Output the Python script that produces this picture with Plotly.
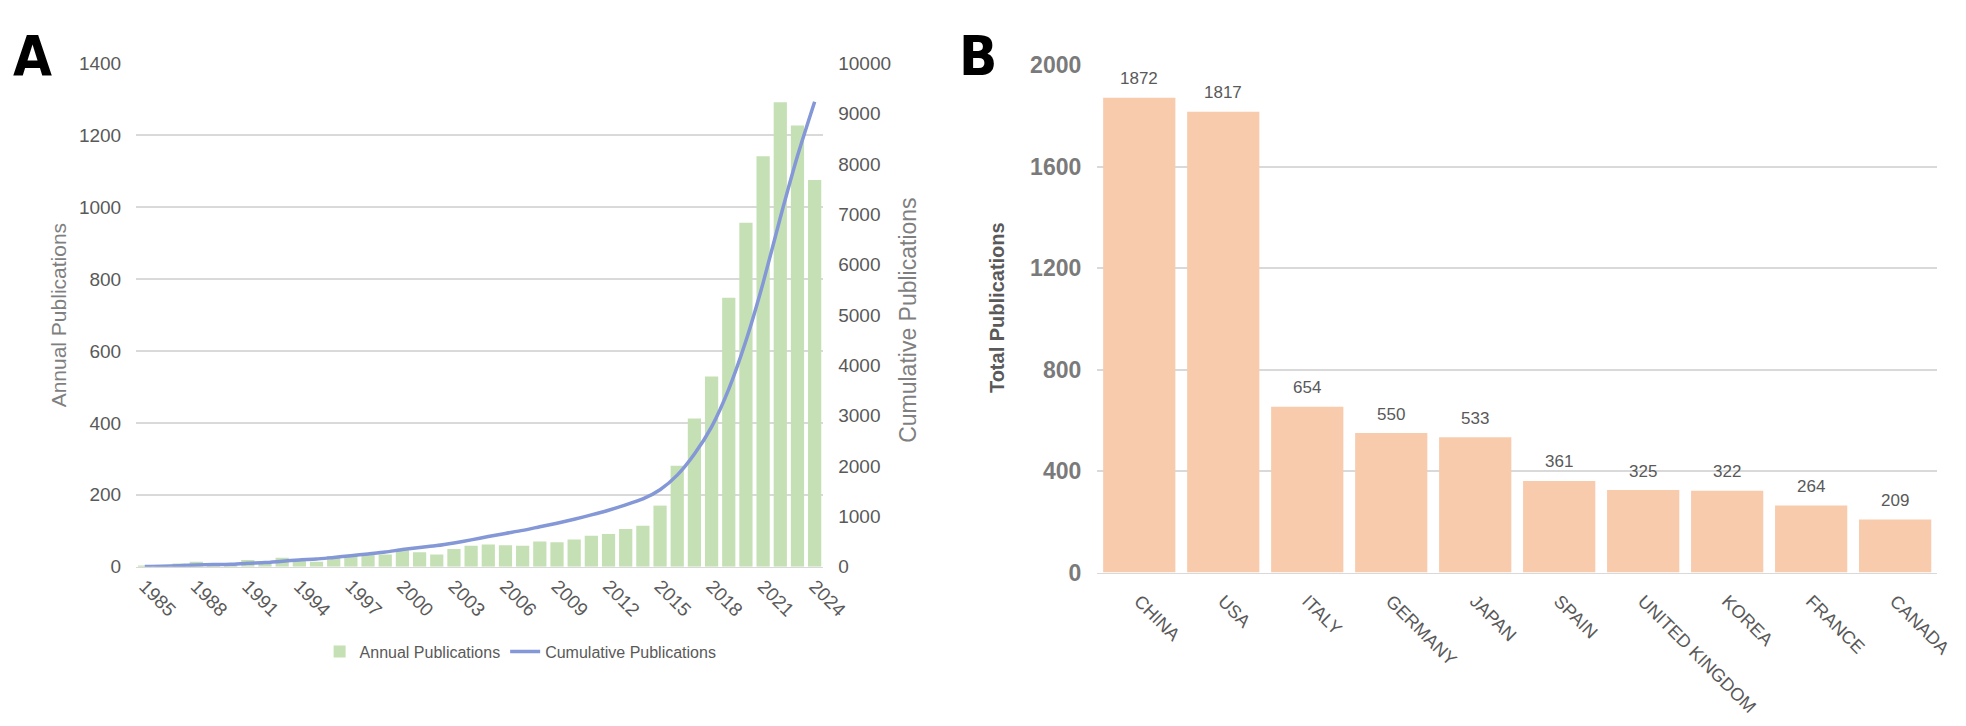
import plotly.graph_objects as go

# ---------------- Panel A data ----------------
years = [str(y) for y in range(1985, 2025)]
annual_pubs = [3, 2, 9, 14, 4, 5, 19, 9, 25, 21,
               14, 30, 30, 34, 34, 46, 40, 34, 49, 58,
               62, 60, 58, 70, 68, 76, 86, 91, 105, 114,
               170, 281, 412, 529, 748, 957, 1142, 1292, 1227, 1076]
cumulative_pubs = [5, 9, 20, 36, 42, 49, 70, 82, 110, 135,
                   152, 185, 218, 255, 292, 341, 384, 421, 473, 534,
                   600, 662, 722, 794, 864, 942, 1030, 1123, 1230, 1348,
                   1530, 1820, 2240, 2780, 3530, 4490, 5640, 6935, 8160, 9238]
year_ticks = ["1985", "1988", "1991", "1994", "1997", "2000", "2003", "2006",
              "2009", "2012", "2015", "2018", "2021", "2024"]

# ---------------- Panel B data ----------------
countries = ["CHINA", "USA", "ITALY", "GERMANY", "JAPAN", "SPAIN",
             "UNITED KINGDOM", "KOREA", "FRANCE", "CANADA"]
country_pubs = [1872, 1817, 654, 550, 533, 361, 325, 322, 264, 209]

W, H = 1966, 726
FONT = "Liberation Sans"
GRAY = "#595959"
GRID = "#d9d9d9"

def px_x(v):
    return v / W

def px_y(v):
    return 1 - v / H

A_TOP, A_BOT = 44, 566
B_TOP, B_BOT = 46, 572

fig = go.Figure()

fig.add_trace(go.Bar(
    x=years, y=annual_pubs, name="Annual Publications",
    marker=dict(color="#C5E0B4", line=dict(width=0)),
    width=0.77, xaxis="x", yaxis="y",
))
fig.add_trace(go.Scatter(
    x=years, y=cumulative_pubs, name="Cumulative Publications",
    mode="lines", line=dict(color="#8497D6", width=3.5, shape="spline", smoothing=0.6),
    xaxis="x", yaxis="y2",
))
fig.add_trace(go.Bar(
    x=countries, y=country_pubs, name="Total Publications",
    marker=dict(color="#F8CBAD", line=dict(width=0)),
    width=0.86, xaxis="x2", yaxis="y3", showlegend=False,
))

annotations = []
for c, v in zip(countries, country_pubs):
    annotations.append(dict(
        x=c, y=v, xref="x2", yref="y3", text=str(v), showarrow=False,
        yshift=19, font=dict(family=FONT, size=17, color=GRAY),
    ))

annotations += [
    dict(x=0.0, y=1.0, xref="paper", yref="paper", text="A",
         showarrow=False, xanchor="left", yanchor="top", xshift=2,
         font=dict(family="DejaVu Sans Condensed", size=56, color="black", weight="bold")),
    dict(x=px_x(962), y=1.0, xref="paper", yref="paper", text="B",
         showarrow=False, xanchor="left", yanchor="top",
         font=dict(family="DejaVu Sans Condensed", size=56, color="black", weight="bold")),
    dict(x=px_x(50), y=px_y((A_TOP + A_BOT) / 2), xref="paper", yref="paper",
         text="Annual Publications",
         showarrow=False, textangle=-90, xanchor="center", yanchor="middle",
         font=dict(family=FONT, size=21, color="#7f7f7f")),
    dict(x=px_x(912), y=px_y((A_TOP + A_BOT) / 2 + 6), xref="paper", yref="paper",
         text="Cumulative Publications",
         showarrow=False, textangle=-90, xanchor="center", yanchor="middle",
         font=dict(family=FONT, size=23, color="#7f7f7f")),
    dict(x=px_x(1003), y=px_y((B_TOP + B_BOT) / 2 - 12), xref="paper", yref="paper",
         text="Total Publications",
         showarrow=False, textangle=-90, xanchor="center", yanchor="middle",
         font=dict(family=FONT, size=20, color=GRAY, weight="bold")),
]

fig.update_layout(
    width=W, height=H,
    margin=dict(l=0, r=0, t=0, b=0),
    paper_bgcolor="white", plot_bgcolor="white",
    font=dict(family=FONT, color=GRAY),
    showlegend=True,
    legend=dict(orientation="h", x=px_x(519), y=px_y(654), xanchor="center", yanchor="middle",
                font=dict(family=FONT, size=16, color=GRAY), bgcolor="rgba(0,0,0,0)"),
    xaxis=dict(domain=[px_x(129), px_x(826)], type="category", categoryorder="array",
               categoryarray=years, tickmode="array", tickvals=year_ticks, ticktext=year_ticks,
               tickangle=45, tickfont=dict(family=FONT, size=19, color=GRAY),
               showgrid=False, showline=True, linecolor=GRID, linewidth=1, ticks="",
               anchor="y"),
    yaxis=dict(domain=[px_y(A_BOT), px_y(A_TOP)], range=[0, 1400], dtick=200,
               showgrid=True, gridcolor=GRID, gridwidth=1.5, zeroline=False,
               tickfont=dict(family=FONT, size=19, color=GRAY), ticks="",
               ticklabelstandoff=14, anchor="x"),
    yaxis2=dict(overlaying="y", side="right", range=[0, 10000], dtick=1000,
                tickformat="d",
                showgrid=False, zeroline=False, ticks="",
                tickfont=dict(family=FONT, size=19, color=GRAY),
                ticklabelstandoff=14, anchor="x"),
    xaxis2=dict(domain=[px_x(1104), px_x(1956)], type="category",
                categoryorder="array", categoryarray=countries,
                tickangle=45, tickfont=dict(family=FONT, size=18, color=GRAY),
                showgrid=False, showline=True, linecolor=GRID, linewidth=1, ticks="",
                ticklabelstandoff=10, anchor="y3"),
    yaxis3=dict(domain=[px_y(B_BOT), px_y(B_TOP)], range=[0, 2000], dtick=400,
                showgrid=True, gridcolor=GRID, gridwidth=1.5, zeroline=False,
                tickfont=dict(family=FONT, size=23, color="#7a7a7a", weight="bold"),
                ticks="", ticklabelstandoff=15, anchor="x2"),
    annotations=annotations,
)

fig.write_html("out.html")
